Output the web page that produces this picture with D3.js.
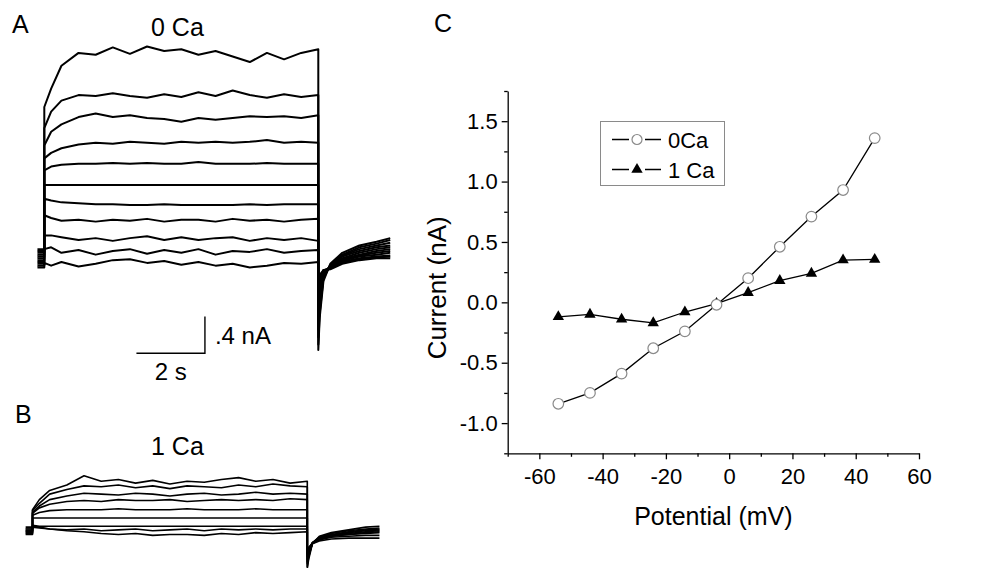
<!DOCTYPE html>
<html>
<head>
<meta charset="utf-8">
<script src="https://cdn.jsdelivr.net/npm/d3@7"></script>
<style>
  body { margin: 0; background: #fff; }
  text { font-family: "Liberation Sans", Arial, sans-serif; fill: #000; }
</style>
</head>
<body>
<svg id="fig" width="987" height="568"></svg>
<script>
// sample times (s) shared by the current traces: holding, 8 s step, tail
var traceTimes = [-0.2, 0, 0, 0.2, 0.5, 1, 1.5, 2, 2.5, 3, 3.5, 4, 4.5, 5, 5.5, 6, 6.5, 7, 7.5, 8,
                  8, 8.04, 8.15, 8.35, 8.7, 9.2, 9.7, 10.1];

// panel A, 0 Ca traces (nA), top to bottom
var tracesA = [
  [-0.72, -0.72, 0.85, 1.05, 1.30, 1.44, 1.42, 1.50, 1.43, 1.51, 1.46, 1.48, 1.42, 1.46, 1.40, 1.34, 1.44, 1.37, 1.44, 1.48, -1.80, -1.45, -1.05, -0.86, -0.74, -0.66, -0.62, -0.58],
  [-0.74, -0.74, 0.62, 0.80, 0.92, 0.98, 0.97, 1.00, 0.97, 0.95, 0.99, 0.96, 1.01, 0.97, 1.03, 0.98, 0.95, 0.99, 0.96, 0.98, -1.74, -1.40, -1.02, -0.87, -0.76, -0.68, -0.64, -0.60],
  [-0.76, -0.76, 0.43, 0.58, 0.66, 0.74, 0.78, 0.74, 0.76, 0.73, 0.72, 0.69, 0.73, 0.71, 0.73, 0.75, 0.74, 0.75, 0.73, 0.76, -1.66, -1.35, -1.00, -0.88, -0.77, -0.70, -0.66, -0.63],
  [-0.78, -0.78, 0.29, 0.35, 0.40, 0.44, 0.46, 0.45, 0.47, 0.46, 0.45, 0.47, 0.46, 0.47, 0.46, 0.47, 0.49, 0.46, 0.47, 0.46, -1.58, -1.30, -0.98, -0.88, -0.78, -0.72, -0.68, -0.66],
  [-0.80, -0.80, 0.16, 0.20, 0.22, 0.23, 0.23, 0.24, 0.23, 0.24, 0.23, 0.23, 0.25, 0.23, 0.23, 0.23, 0.24, 0.23, 0.23, 0.23, -1.50, -1.25, -0.97, -0.89, -0.80, -0.74, -0.70, -0.68],
  [-0.82, -0.82, 0.00, 0.00, 0.00, 0.00, 0.00, 0.00, 0.00, 0.00, 0.00, 0.00, 0.00, 0.00, 0.00, 0.00, 0.00, 0.00, 0.00, 0.00, -1.42, -1.20, -0.96, -0.89, -0.81, -0.76, -0.72, -0.70],
  [-0.84, -0.84, -0.15, -0.17, -0.19, -0.20, -0.21, -0.21, -0.22, -0.22, -0.21, -0.22, -0.22, -0.22, -0.22, -0.21, -0.22, -0.21, -0.21, -0.21, -1.34, -1.15, -0.95, -0.90, -0.82, -0.77, -0.74, -0.72],
  [-0.86, -0.86, -0.33, -0.36, -0.39, -0.38, -0.40, -0.38, -0.39, -0.37, -0.40, -0.38, -0.38, -0.40, -0.37, -0.39, -0.38, -0.40, -0.38, -0.37, -1.26, -1.10, -0.94, -0.90, -0.83, -0.78, -0.76, -0.74],
  [-0.70, -0.70, -0.55, -0.55, -0.57, -0.60, -0.58, -0.61, -0.58, -0.56, -0.60, -0.57, -0.60, -0.58, -0.57, -0.61, -0.58, -0.60, -0.58, -0.61, -1.18, -1.06, -0.93, -0.91, -0.84, -0.80, -0.78, -0.77],
  [-0.88, -0.88, -0.70, -0.68, -0.74, -0.71, -0.76, -0.72, -0.70, -0.75, -0.71, -0.74, -0.70, -0.76, -0.72, -0.73, -0.70, -0.74, -0.72, -0.71, -1.10, -1.02, -0.93, -0.91, -0.85, -0.81, -0.79, -0.78],
  [-0.90, -0.90, -0.85, -0.88, -0.84, -0.89, -0.86, -0.82, -0.81, -0.85, -0.83, -0.87, -0.84, -0.88, -0.86, -0.90, -0.88, -0.85, -0.86, -0.84, -1.04, -0.98, -0.93, -0.92, -0.86, -0.82, -0.80, -0.80]
];

// panel B, 1 Ca traces (nA), top to bottom
var tracesB = [
  [-0.12, -0.12, 0.09, 0.20, 0.30, 0.36, 0.46, 0.40, 0.42, 0.38, 0.41, 0.37, 0.40, 0.39, 0.42, 0.44, 0.40, 0.42, 0.38, 0.40, -0.55, -0.45, -0.28, -0.20, -0.16, -0.13, -0.10, -0.09],
  [-0.14, -0.14, 0.08, 0.16, 0.26, 0.31, 0.35, 0.34, 0.36, 0.33, 0.35, 0.32, 0.35, 0.34, 0.33, 0.36, 0.34, 0.37, 0.35, 0.34, -0.53, -0.43, -0.27, -0.21, -0.17, -0.14, -0.12, -0.11],
  [-0.15, -0.15, 0.06, 0.13, 0.20, 0.24, 0.27, 0.26, 0.25, 0.27, 0.26, 0.24, 0.26, 0.27, 0.25, 0.26, 0.28, 0.26, 0.27, 0.26, -0.50, -0.41, -0.27, -0.22, -0.18, -0.15, -0.13, -0.12],
  [-0.16, -0.16, 0.05, 0.11, 0.15, 0.18, 0.19, 0.18, 0.20, 0.19, 0.19, 0.20, 0.18, 0.19, 0.20, 0.19, 0.20, 0.19, 0.21, 0.20, -0.48, -0.40, -0.28, -0.22, -0.19, -0.16, -0.14, -0.13],
  [-0.17, -0.17, 0.03, 0.06, 0.08, 0.09, 0.09, 0.09, 0.10, 0.09, 0.09, 0.09, 0.10, 0.09, 0.09, 0.09, 0.10, 0.09, 0.09, 0.09, -0.45, -0.38, -0.28, -0.23, -0.19, -0.17, -0.15, -0.14],
  [-0.18, -0.18, 0.00, 0.00, 0.00, 0.00, 0.00, 0.00, 0.00, 0.00, 0.00, 0.00, 0.00, 0.00, 0.00, 0.00, 0.00, 0.00, 0.00, 0.00, -0.42, -0.36, -0.28, -0.23, -0.20, -0.18, -0.16, -0.15],
  [-0.10, -0.10, -0.08, -0.09, -0.09, -0.09, -0.09, -0.09, -0.09, -0.09, -0.09, -0.09, -0.09, -0.09, -0.09, -0.09, -0.09, -0.09, -0.09, -0.09, -0.40, -0.34, -0.27, -0.23, -0.20, -0.18, -0.17, -0.16],
  [-0.12, -0.12, -0.10, -0.11, -0.12, -0.13, -0.12, -0.14, -0.13, -0.12, -0.14, -0.13, -0.12, -0.14, -0.12, -0.13, -0.12, -0.13, -0.12, -0.12, -0.38, -0.33, -0.27, -0.24, -0.21, -0.20, -0.19, -0.19],
  [-0.14, -0.14, -0.09, -0.10, -0.12, -0.14, -0.15, -0.17, -0.18, -0.17, -0.19, -0.18, -0.18, -0.19, -0.17, -0.18, -0.16, -0.17, -0.16, -0.15, -0.36, -0.32, -0.28, -0.25, -0.23, -0.22, -0.22, -0.22]
];

// panel C, current-voltage relation
var potentials = [-54, -44, -34, -24, -14, -4, 6, 16, 26, 36, 46];
var current0Ca = [-0.84, -0.75, -0.59, -0.38, -0.24, -0.02, 0.20, 0.46, 0.71, 0.93, 1.36];
var current1Ca = [-0.12, -0.10, -0.14, -0.17, -0.08, -0.01, 0.08, 0.18, 0.24, 0.35, 0.355];
var xTicksC = [-60, -40, -20, 0, 20, 40, 60];
var xMinorC = [-70, -50, -30, -10, 10, 30, 50];
var yTicksC = [-1.0, -0.5, 0.0, 0.5, 1.0, 1.5];
var yMinorC = [-1.25, -0.75, -0.25, 0.25, 0.75, 1.25, 1.75];
var seriesNames = ["0Ca", "1 Ca"];

var svg = d3.select("#fig");
svg.append("rect").attr("width", 987).attr("height", 568).attr("fill", "#fff");

// Draws a family of current traces with its own scales
function drawTraces(traces, sx, sy, width) {
  var line = d3.line()
    .x(function(d, i) { return sx(traceTimes[i]); })
    .y(function(d) { return sy(d); });
  svg.append("g").selectAll("path").data(traces).enter().append("path")
    .attr("d", line).attr("fill", "none").attr("stroke", "#000")
    .attr("stroke-width", width).attr("stroke-linejoin", "round");
}

// panel A
var xA = d3.scaleLinear().domain([0, 8]).range([44.3, 318.3]);
var yA = d3.scaleLinear().domain([-1.8, 1.5]).range([350, 47.4]);
drawTraces(tracesA, xA, yA, 2);

// scale bar: 2 s, 0.4 nA
var bar = svg.append("g").attr("fill", "none").attr("stroke", "#000").attr("stroke-width", 1.4);
bar.append("path").attr("d", "M" + xA(2.69) + "," + yA(-1.835) + "H" + xA(4.69) + "V" + yA(-1.435));
svg.append("text").attr("x", xA(4.69) + 10).attr("y", 344).attr("font-size", 24).text(".4 nA");
svg.append("text").attr("x", xA(3.69)).attr("y", 380).attr("font-size", 24).attr("text-anchor", "middle").text("2 s");

// panel B
var xB = d3.scaleLinear().domain([0, 8]).range([32.5, 307.3]);
var yB = d3.scaleLinear().domain([-0.55, 0.45]).range([568.4, 476.7]);
drawTraces(tracesB, xB, yB, 1.6);

// panel labels and titles
svg.append("text").attr("x", 12).attr("y", 33).attr("font-size", 25).text("A");
svg.append("text").attr("x", 15).attr("y", 423).attr("font-size", 25).text("B");
svg.append("text").attr("x", 434).attr("y", 32).attr("font-size", 25).text("C");
svg.append("text").attr("x", 151).attr("y", 36).attr("font-size", 25).text("0 Ca");
svg.append("text").attr("x", 151).attr("y", 455).attr("font-size", 25).text("1 Ca");

// panel C
var xC = d3.scaleLinear().domain([-70, 60]).range([507.7, 919]);
var yC = d3.scaleLinear().domain([-1.25, 1.75]).range([453.3, 91]);
var fmt = function(f) { return function(d) { return d3.format(f)(d).replace("\u2212", "-"); }; };

var gx = svg.append("g").attr("transform", "translate(0," + yC(-1.25) + ")");
gx.call(d3.axisBottom(xC).tickValues(xTicksC).tickSize(6).tickSizeOuter(0).tickPadding(9).tickFormat(fmt("d")));
gx.append("g").call(d3.axisBottom(xC).tickValues(xMinorC).tickSize(3.5).tickSizeOuter(0).tickFormat(""))
  .select(".domain").remove();
var gy = svg.append("g").attr("transform", "translate(" + xC(-70) + ",0)");
gy.call(d3.axisLeft(yC).tickValues(yTicksC).tickSize(6).tickSizeOuter(0).tickPadding(4).tickFormat(fmt(".1f")));
gy.append("g").call(d3.axisLeft(yC).tickValues(yMinorC).tickSize(3.5).tickSizeOuter(0).tickFormat(""))
  .select(".domain").remove();
[gx, gy].forEach(function(g) {
  g.selectAll("text").attr("font-size", 22).attr("font-family", "Liberation Sans, Arial, sans-serif").attr("fill", "#000");
  g.selectAll("path,line").attr("stroke", "#000").attr("stroke-width", 1.3);
  g.attr("font-size", null).attr("font-family", null);
});

svg.append("text").attr("x", xC(-5)).attr("y", 525).attr("font-size", 25).attr("text-anchor", "middle").text("Potential (mV)");
svg.append("text").attr("transform", "translate(446," + yC(0.12) + ") rotate(-90)")
  .attr("font-size", 26).attr("text-anchor", "middle").text("Current (nA)");

var ivLine = d3.line().x(function(d, i) { return xC(potentials[i]); }).y(function(d) { return yC(d); });
var tri = d3.symbol().type(d3.symbolTriangle).size(56);

svg.append("path").attr("d", ivLine(current1Ca)).attr("fill", "none").attr("stroke", "#000").attr("stroke-width", 1.3);
svg.append("path").attr("d", ivLine(current0Ca)).attr("fill", "none").attr("stroke", "#000").attr("stroke-width", 1.3);
svg.append("g").selectAll("path").data(current1Ca).enter().append("path")
  .attr("d", tri).attr("fill", "#000")
  .attr("transform", function(d, i) { return "translate(" + xC(potentials[i]) + "," + yC(d) + ")"; });
svg.append("g").selectAll("circle").data(current0Ca).enter().append("circle")
  .attr("cx", function(d, i) { return xC(potentials[i]); }).attr("cy", function(d) { return yC(d); })
  .attr("r", 5.3).attr("fill", "#fff").attr("stroke", "#8a8a8a").attr("stroke-width", 1.2);

// legend
var legend = svg.append("g");
legend.append("rect").attr("x", 600.5).attr("y", 121.5).attr("width", 124).attr("height", 64)
  .attr("fill", "#fff").attr("stroke", "#8a8a8a").attr("stroke-width", 1);
seriesNames.forEach(function(name, i) {
  var y = 139.5 + i * 30;
  legend.append("path").attr("d", "M612," + y + "H629M645," + y + "H661")
    .attr("stroke", "#000").attr("stroke-width", 1.3);
  if (i === 0) {
    legend.append("circle").attr("cx", 637).attr("cy", y).attr("r", 5).attr("fill", "#fff").attr("stroke", "#8a8a8a").attr("stroke-width", 1.2);
  } else {
    legend.append("path").attr("d", tri).attr("transform", "translate(637," + y + ")").attr("fill", "#000");
  }
  legend.append("text").attr("x", 668).attr("y", y + 8).attr("font-size", 22).text(name);
});
</script>
</body>
</html>
